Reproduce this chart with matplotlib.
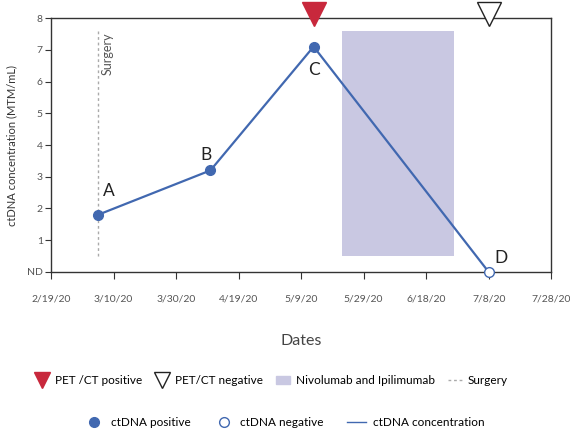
import matplotlib.pyplot as plt
from matplotlib.lines import Line2D
from matplotlib.patches import Patch
import pandas as pd

plt.rcParams["font.family"] = ["Lato", "DejaVu Sans"]

# data
sample_dates = pd.to_datetime(["2020-03-05", "2020-04-10", "2020-05-13", "2020-07-08"])
ctdna_values = [1.8, 3.2, 7.1, 0.0]
point_labels = ["A", "B", "C", "D"]
ctdna_positive = [True, True, True, False]

surgery_date = pd.Timestamp("2020-03-05")
treatment_start = pd.Timestamp("2020-05-22")
treatment_end = pd.Timestamp("2020-06-27")
pet_positive_dates = pd.to_datetime(["2020-05-13"])
pet_negative_dates = pd.to_datetime(["2020-07-08"])

tick_dates = pd.date_range("2020-02-19", "2020-07-28", freq="20D")
y_ticks = [0, 1, 2, 3, 4, 5, 6, 7, 8]
y_ticklabels = ["ND", "1", "2", "3", "4", "5", "6", "7", "8"]

line_color = "#4168b0"
shade_color = "#c9c8e2"
red = "#c8283c"
gray_text = "#555555"

fig = plt.figure(figsize=(5.7, 4.29), dpi=100, facecolor="white")
ax = fig.add_axes([0.0895, 0.366, 0.8775, 0.592])

ax.fill_between([treatment_start, treatment_end], 0.5, 7.6, color=shade_color, lw=0)
ax.plot([surgery_date, surgery_date], [0.5, 7.6], color="#aaaaaa", lw=1, ls=(0, (2, 2)))
ax.text(surgery_date + pd.Timedelta(days=3), 7.55, "Surgery", rotation=90, va="top",
        ha="center", fontsize=9, color=gray_text)

ax.plot(sample_dates, ctdna_values, color=line_color, lw=1.6, zorder=3)
for d, v, pos in zip(sample_dates, ctdna_values, ctdna_positive):
    ax.plot(d, v, "o", ms=7, mfc=line_color if pos else "white", mec=line_color,
            mew=1, zorder=4, clip_on=False)

offsets = {"A": (3.5, 0.75), "B": (-1.5, 0.5), "C": (0, -0.74), "D": (4, 0.44)}
for d, v, lab in zip(sample_dates, ctdna_values, point_labels):
    dx, dy = offsets[lab]
    ax.text(d + pd.Timedelta(days=dx), v + dy, lab, fontsize=12.5, ha="center", va="center",
            color="#222222")

for d in pet_positive_dates:
    ax.plot(d, 8.12, "v", ms=17, color=red, clip_on=False, zorder=5)
for d in pet_negative_dates:
    ax.plot(d, 8.12, "v", ms=17, mfc="white", mec="#222222", mew=1, clip_on=False, zorder=5)

ax.set_xlim(tick_dates[0], tick_dates[-1])
ax.set_ylim(0, 8)
ax.set_xticks(tick_dates)
ax.set_xticklabels([f"{d.month}/{d.day}/{d:%y}" for d in tick_dates], fontsize=7.5, color=gray_text)
ax.set_yticks(y_ticks)
ax.set_yticklabels(y_ticklabels, fontsize=7.5, color=gray_text)
ax.tick_params(axis="x", length=5, pad=11, color="#333333")
ax.tick_params(axis="y", length=4, pad=2, color="#333333")
for s in ax.spines.values():
    s.set_color("#333333")
    s.set_linewidth(1)

ax.set_ylabel("ctDNA concentration (MTM/mL)", fontsize=8, color="#333333", labelpad=7)
ax.set_xlabel("Dates", fontsize=11.5, color="#444444", labelpad=22)

row1 = [
    Line2D([], [], marker="v", ls="", ms=12, color=red),
    Line2D([], [], marker="v", ls="", ms=12, mfc="white", mec="#222222"),
    Patch(color=shade_color),
    Line2D([], [], color="#aaaaaa", lw=1, ls=(0, (2, 2))),
]
fig.legend(row1, ["PET /CT positive", "PET/CT negative", "Nivolumab and Ipilimumab", "Surgery"],
           loc="center", bbox_to_anchor=(0.476, 0.113), ncol=4, frameon=False, fontsize=8.5,
           handlelength=1.2, handletextpad=0.5, columnspacing=1.1)

row2 = [
    Line2D([], [], marker="o", ls="", ms=7, color=line_color),
    Line2D([], [], marker="o", ls="", ms=7, mfc="white", mec=line_color),
    Line2D([], [], color=line_color, lw=1),
]
fig.legend(row2, ["ctDNA positive", "ctDNA negative", "ctDNA concentration"],
           loc="center", bbox_to_anchor=(0.5, 0.016), ncol=3, frameon=False, fontsize=8.5,
           handlelength=1.6, handletextpad=0.6, columnspacing=2.0)

fig.savefig("out.png", dpi=100)
